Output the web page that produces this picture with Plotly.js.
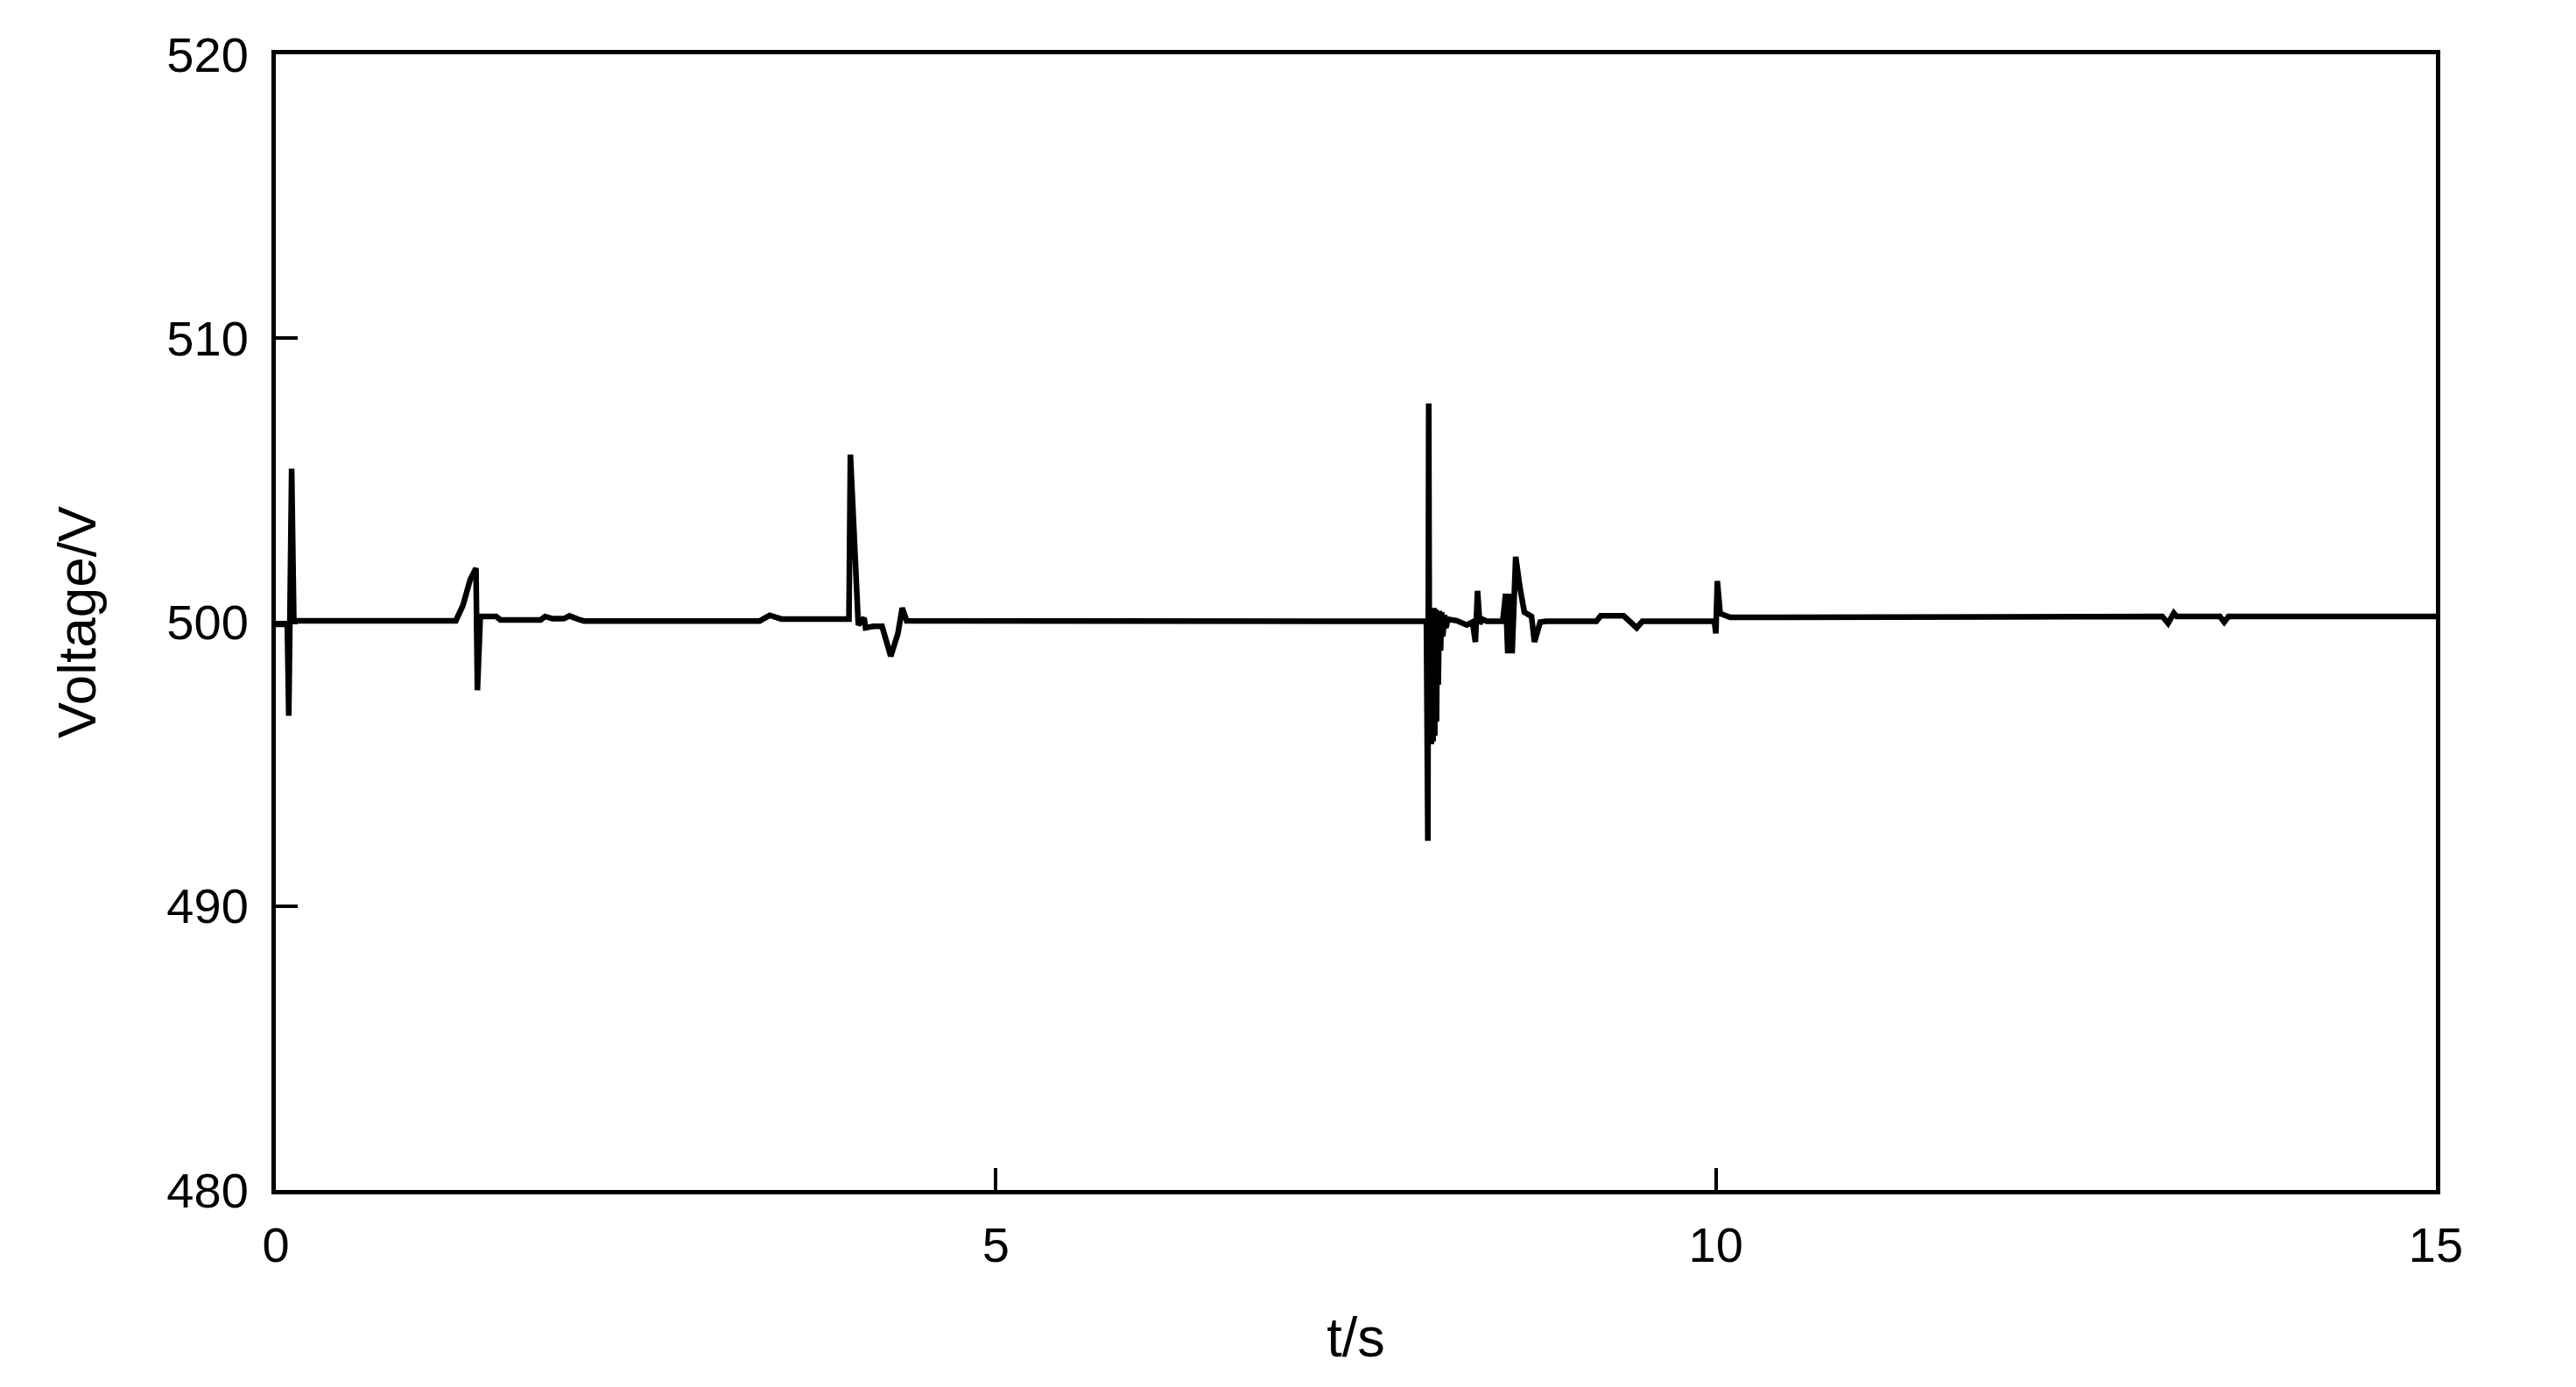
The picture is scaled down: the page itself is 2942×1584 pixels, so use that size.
<!DOCTYPE html>
<html>
<head>
<meta charset="utf-8">
<script src="https://cdn.plot.ly/plotly-3.0.1.min.js"></script>
<style>
  html, body { margin: 0; padding: 0; background: #ffffff; }
  #chart { width: 2942px; height: 1584px; }
</style>
</head>
<body>
<div id="chart"></div>
<script>
// time (s)
const timeS = [
  0, 0.08, 0.09, 0.10, 0.11, 0.125,
  1.25, 1.30, 1.35, 1.39, 1.40, 1.42, 1.53, 1.56, 1.84, 1.87, 1.92, 2.00, 2.04, 2.10, 2.14,
  3.36, 3.43, 3.51, 3.98, 3.99, 4.01, 4.03, 4.045, 4.06, 4.085, 4.095, 4.15, 4.21, 4.27, 4.32, 4.35, 4.38,
  7.99, 8.00, 8.006, 8.012, 8.018, 8.024, 8.030, 8.036, 8.042, 8.048, 8.054, 8.060, 8.066, 8.072, 8.080,
  8.088, 8.096, 8.104, 8.115, 8.125, 8.14, 8.20, 8.27, 8.31, 8.33, 8.345, 8.36, 8.38, 8.41,
  8.52, 8.54, 8.555, 8.57, 8.585, 8.60, 8.61, 8.64, 8.67, 8.72, 8.74, 8.78, 8.82,
  9.17, 9.20, 9.36, 9.45, 9.49, 9.99, 10.00, 10.01, 10.03, 10.10,
  13.10, 13.14, 13.18, 13.20, 13.50, 13.53, 13.56, 15.00
];
// voltage (V)
const voltageV = [
  499.92, 499.92, 496.7, 499.95, 505.4, 500.05,
  500.05, 500.6, 501.5, 501.9, 497.6, 500.2, 500.2, 500.08, 500.08, 500.2, 500.12, 500.12, 500.22, 500.1, 500.04,
  500.04, 500.24, 500.11, 500.11, 505.9, 503.5, 500.85, 499.9, 500.0, 500.15, 499.8, 499.85, 499.85, 498.8, 499.6, 500.5, 500.05,
  500.03, 492.3, 507.7, 495.7, 500.5, 495.7, 500.5, 495.8, 500.5, 496.0, 500.45, 496.5, 500.4, 497.8, 500.4,
  499.0, 500.35, 499.5, 500.25, 499.8, 500.1, 500.05, 499.9, 500.0, 499.3, 501.1, 499.95, 500.1, 500.03,
  500.03, 501.0, 498.9, 501.0, 498.9, 501.0, 502.3, 501.2, 500.35, 500.2, 499.3, 500.0, 500.03,
  500.03, 500.22, 500.22, 499.8, 500.03, 500.03, 499.6, 501.45, 500.3, 500.17,
  500.2, 499.96, 500.32, 500.2, 500.2, 500.0, 500.2, 500.2
];
const xTicks = [0, 5, 10, 15];
const yTicks = [480, 490, 500, 510, 520];

const FONT = 'Arial, "Liberation Sans", sans-serif';

const trace = {
  x: timeS,
  y: voltageV,
  type: 'scatter',
  mode: 'lines',
  line: { color: '#000000', width: 6.5 },
  hoverinfo: 'skip'
};

const axisCommon = {
  showline: true,
  linecolor: '#000000',
  linewidth: 5,
  mirror: true,
  showgrid: false,
  zeroline: false,
  ticks: 'inside',
  ticklen: 25,
  tickwidth: 4,
  tickcolor: '#000000',
  tickfont: { family: FONT, size: 56, color: '#000000' },
  automargin: false
};

const layout = {
  width: 2942,
  height: 1584,
  paper_bgcolor: '#ffffff',
  plot_bgcolor: '#ffffff',
  showlegend: false,
  margin: { l: 315, r: 160, t: 62, b: 225 },
  xaxis: Object.assign({}, axisCommon, {
    range: [0, 15],
    tickmode: 'array',
    tickvals: xTicks,
    ticktext: xTicks.map(String),
    ticklabelstandoff: 10,
    title: { text: 't/s', font: { family: FONT, size: 63, color: '#000000' }, standoff: 54 }
  }),
  yaxis: Object.assign({}, axisCommon, {
    range: [480, 520],
    tickmode: 'array',
    tickvals: yTicks,
    ticktext: yTicks.map(String),
    ticklabelstandoff: 15,
    title: { text: 'Voltage/V', font: { family: FONT, size: 62, color: '#000000' }, standoff: 62 }
  })
};

Plotly.newPlot('chart', [trace], layout, { staticPlot: true, displayModeBar: false });
</script>
</body>
</html>
